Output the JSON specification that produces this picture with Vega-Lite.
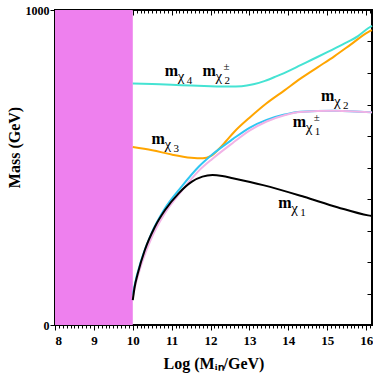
{
  "$schema": "https://vega.github.io/schema/vega-lite/v6.json",
  "width": 317,
  "height": 315,
  "autosize": {"type": "none"},
  "padding": {"left": 55, "top": 10, "right": 1, "bottom": 57},
  "background": "white",
  "config": {
    "view": {"stroke": "black", "strokeWidth": 2},
    "font": "Liberation Serif",
    "axis": {"domain": false, "grid": false, "labelFont": "Liberation Serif", "titleFont": "Liberation Serif", "labelFontWeight": "bold", "titleFontWeight": "bold", "labelColor": "black", "titleColor": "black", "tickColor": "black"}
  },
  "datasets": {
    "band": [{"x0": 8, "x1": 10, "y0": 0, "y1": 1000}],
    "curves": [
      {"s": "chi4", "x": 10.0, "m": 767}, {"s": "chi4", "x": 10.5, "m": 765}, {"s": "chi4", "x": 11.0, "m": 763}, {"s": "chi4", "x": 11.5, "m": 760}, {"s": "chi4", "x": 12.0, "m": 758}, {"s": "chi4", "x": 12.5, "m": 757}, {"s": "chi4", "x": 12.8, "m": 758}, {"s": "chi4", "x": 13.1, "m": 764}, {"s": "chi4", "x": 13.4, "m": 775}, {"s": "chi4", "x": 13.7, "m": 790}, {"s": "chi4", "x": 14.0, "m": 806}, {"s": "chi4", "x": 14.3, "m": 824}, {"s": "chi4", "x": 14.6, "m": 842}, {"s": "chi4", "x": 15.0, "m": 866}, {"s": "chi4", "x": 15.4, "m": 891}, {"s": "chi4", "x": 15.8, "m": 918}, {"s": "chi4", "x": 16.05, "m": 942}, {"s": "chi4", "x": 16.15, "m": 950},
      {"s": "chi3", "x": 10.0, "m": 565}, {"s": "chi3", "x": 10.5, "m": 555}, {"s": "chi3", "x": 11.0, "m": 541}, {"s": "chi3", "x": 11.5, "m": 531}, {"s": "chi3", "x": 11.8, "m": 529}, {"s": "chi3", "x": 12.0, "m": 536}, {"s": "chi3", "x": 12.2, "m": 557}, {"s": "chi3", "x": 12.4, "m": 584}, {"s": "chi3", "x": 12.6, "m": 612}, {"s": "chi3", "x": 13.0, "m": 658}, {"s": "chi3", "x": 13.44, "m": 704}, {"s": "chi3", "x": 13.9, "m": 745}, {"s": "chi3", "x": 14.31, "m": 782}, {"s": "chi3", "x": 14.75, "m": 818}, {"s": "chi3", "x": 15.18, "m": 853}, {"s": "chi3", "x": 15.6, "m": 890}, {"s": "chi3", "x": 16.05, "m": 930}, {"s": "chi3", "x": 16.15, "m": 936},
      {"s": "chi1pm", "x": 10.0, "m": 95}, {"s": "chi1pm", "x": 10.04, "m": 122}, {"s": "chi1pm", "x": 10.22, "m": 206}, {"s": "chi1pm", "x": 10.48, "m": 291}, {"s": "chi1pm", "x": 10.8, "m": 365}, {"s": "chi1pm", "x": 11.26, "m": 440}, {"s": "chi1pm", "x": 11.7, "m": 503}, {"s": "chi1pm", "x": 12.05, "m": 542}, {"s": "chi1pm", "x": 12.57, "m": 590}, {"s": "chi1pm", "x": 13.0, "m": 626}, {"s": "chi1pm", "x": 13.44, "m": 651}, {"s": "chi1pm", "x": 13.9, "m": 668}, {"s": "chi1pm", "x": 14.31, "m": 677}, {"s": "chi1pm", "x": 15.18, "m": 680}, {"s": "chi1pm", "x": 16.15, "m": 675},
      {"s": "chi2", "x": 10.0, "m": 88}, {"s": "chi2", "x": 10.04, "m": 112}, {"s": "chi2", "x": 10.22, "m": 192}, {"s": "chi2", "x": 10.48, "m": 276}, {"s": "chi2", "x": 10.8, "m": 350}, {"s": "chi2", "x": 11.26, "m": 426}, {"s": "chi2", "x": 11.7, "m": 490}, {"s": "chi2", "x": 12.05, "m": 528}, {"s": "chi2", "x": 12.57, "m": 578}, {"s": "chi2", "x": 13.0, "m": 617}, {"s": "chi2", "x": 13.44, "m": 646}, {"s": "chi2", "x": 13.9, "m": 666}, {"s": "chi2", "x": 14.31, "m": 676}, {"s": "chi2", "x": 15.18, "m": 680}, {"s": "chi2", "x": 16.15, "m": 675},
      {"s": "chi1", "x": 10.0, "m": 79}, {"s": "chi1", "x": 10.04, "m": 115}, {"s": "chi1", "x": 10.13, "m": 164}, {"s": "chi1", "x": 10.31, "m": 238}, {"s": "chi1", "x": 10.57, "m": 312}, {"s": "chi1", "x": 10.83, "m": 365}, {"s": "chi1", "x": 11.18, "m": 418}, {"s": "chi1", "x": 11.52, "m": 455}, {"s": "chi1", "x": 11.79, "m": 471}, {"s": "chi1", "x": 12.05, "m": 476}, {"s": "chi1", "x": 12.3, "m": 473}, {"s": "chi1", "x": 12.57, "m": 466}, {"s": "chi1", "x": 13.35, "m": 444}, {"s": "chi1", "x": 14.4, "m": 407}, {"s": "chi1", "x": 15.26, "m": 374}, {"s": "chi1", "x": 16.05, "m": 348}, {"s": "chi1", "x": 16.15, "m": 346}
    ],
    "labels": [
      {"lx": 10.82, "ly": 791, "num": "4", "sup": ""},
      {"lx": 11.79, "ly": 791, "num": "2", "sup": "±"},
      {"lx": 10.48, "ly": 576, "num": "3", "sup": ""},
      {"lx": 14.84, "ly": 712, "num": "2", "sup": ""},
      {"lx": 14.11, "ly": 627, "num": "1", "sup": "±"},
      {"lx": 13.74, "ly": 373, "num": "1", "sup": ""}
    ]
  },
  "resolve": {"axis": {"x": "independent", "y": "independent"}},
  "layer": [
    {
      "data": {"name": "band"},
      "mark": {"type": "rect", "color": "#EE80EE"},
      "encoding": {
        "x": {"field": "x0", "type": "quantitative", "scale": {"domain": [8, 16.15], "nice": false, "zero": false},
          "axis": {"orient": "bottom", "title": "Log (Mᵢₙ/GeV)", "titleFontSize": 16, "titlePadding": 8, "labelFontSize": 13, "labelPadding": 4,
            "values": [8,8.1,8.2,8.3,8.4,8.5,8.6,8.7,8.8,8.9,9,9.1,9.2,9.3,9.4,9.5,9.6,9.7,9.8,9.9,10,10.1,10.2,10.3,10.4,10.5,10.6,10.7,10.8,10.9,11,11.1,11.2,11.3,11.4,11.5,11.6,11.7,11.8,11.9,12,12.1,12.2,12.3,12.4,12.5,12.6,12.7,12.8,12.9,13,13.1,13.2,13.3,13.4,13.5,13.6,13.7,13.8,13.9,14,14.1,14.2,14.3,14.4,14.5,14.6,14.7,14.8,14.9,15,15.1,15.2,15.3,15.4,15.5,15.6,15.7,15.8,15.9,16,16.1],
            "labelExpr": "abs(datum.value - round(datum.value)) < 0.01 ? format(datum.value, 'd') : ''",
            "tickSize": {"condition": {"test": "abs(datum.value - round(datum.value)) < 0.01", "value": 5}, "value": 3},
            "labelOverlap": false}},
        "x2": {"field": "x1"},
        "y": {"field": "y0", "type": "quantitative", "scale": {"domain": [0, 1000], "nice": false},
          "axis": {"orient": "left", "title": "Mass (GeV)", "titleFontSize": 16, "titleAngle": -90, "titleX": -41, "titleY": 137, "titleAlign": "center", "titleBaseline": "middle",
            "labelFontSize": 12, "labelPadding": 1, "values": [0,100,200,300,400,500,600,700,800,900,1000],
            "labelExpr": "datum.value == 0 || datum.value == 1000 ? format(datum.value, 'd') : ''",
            "tickSize": {"condition": {"test": "datum.value == 0 || datum.value == 1000", "value": 5}, "value": -5},
            "labelOverlap": false}},
        "y2": {"field": "y1"}
      }
    },
    {
      "data": {"name": "curves"},
      "mark": {"type": "line", "strokeWidth": 2, "interpolate": "monotone"},
      "encoding": {
        "x": {"field": "x", "type": "quantitative", "scale": {"domain": [8, 16.15], "nice": false, "zero": false},
          "axis": {"orient": "top", "title": null, "labels": false,
            "values": [8,8.1,8.2,8.3,8.4,8.5,8.6,8.7,8.8,8.9,9,9.1,9.2,9.3,9.4,9.5,9.6,9.7,9.8,9.9,10,10.1,10.2,10.3,10.4,10.5,10.6,10.7,10.8,10.9,11,11.1,11.2,11.3,11.4,11.5,11.6,11.7,11.8,11.9,12,12.1,12.2,12.3,12.4,12.5,12.6,12.7,12.8,12.9,13,13.1,13.2,13.3,13.4,13.5,13.6,13.7,13.8,13.9,14,14.1,14.2,14.3,14.4,14.5,14.6,14.7,14.8,14.9,15,15.1,15.2,15.3,15.4,15.5,15.6,15.7,15.8,15.9,16,16.1],
            "tickSize": {"condition": {"test": "abs(datum.value - round(datum.value)) < 0.01", "value": -5}, "value": -3}}},
        "y": {"field": "m", "type": "quantitative", "scale": {"domain": [0, 1000], "nice": false},
          "axis": {"orient": "right", "title": null, "labels": false, "values": [100,200,300,400,500,600,700,800,900], "tickSize": -5}},
        "color": {"field": "s", "type": "nominal", "legend": null,
          "scale": {"domain": ["chi1", "chi1pm", "chi2", "chi3", "chi4"], "range": ["#000000", "#2EC6F2", "#F2B2E6", "#FFA500", "#45E3D3"]}}
      }
    },
    {
      "data": {"name": "labels"},
      "mark": {"type": "text", "text": "m", "font": "Liberation Serif", "fontWeight": "bold", "fontSize": 16, "align": "left", "baseline": "alphabetic", "color": "black"},
      "encoding": {
        "x": {"field": "lx", "type": "quantitative", "axis": null},
        "y": {"field": "ly", "type": "quantitative", "axis": null}
      }
    },
    {
      "data": {"name": "labels"},
      "mark": {"type": "text", "text": "χ", "font": "Liberation Serif", "fontSize": 15, "align": "left", "baseline": "alphabetic", "dx": 13, "dy": 5, "color": "black"},
      "encoding": {
        "x": {"field": "lx", "type": "quantitative", "axis": null},
        "y": {"field": "ly", "type": "quantitative", "axis": null}
      }
    },
    {
      "data": {"name": "labels"},
      "mark": {"type": "text", "font": "Liberation Serif", "fontSize": 11, "align": "left", "baseline": "alphabetic", "dx": 22, "dy": 8, "color": "black"},
      "encoding": {
        "x": {"field": "lx", "type": "quantitative", "axis": null},
        "y": {"field": "ly", "type": "quantitative", "axis": null},
        "text": {"field": "num"}
      }
    },
    {
      "data": {"name": "labels"},
      "transform": [{"filter": "datum.sup != ''"}],
      "mark": {"type": "text", "font": "Liberation Serif", "fontSize": 11, "align": "left", "baseline": "alphabetic", "dx": 21, "dy": -6, "color": "black"},
      "encoding": {
        "x": {"field": "lx", "type": "quantitative", "axis": null},
        "y": {"field": "ly", "type": "quantitative", "axis": null},
        "text": {"field": "sup"}
      }
    }
  ]
}
